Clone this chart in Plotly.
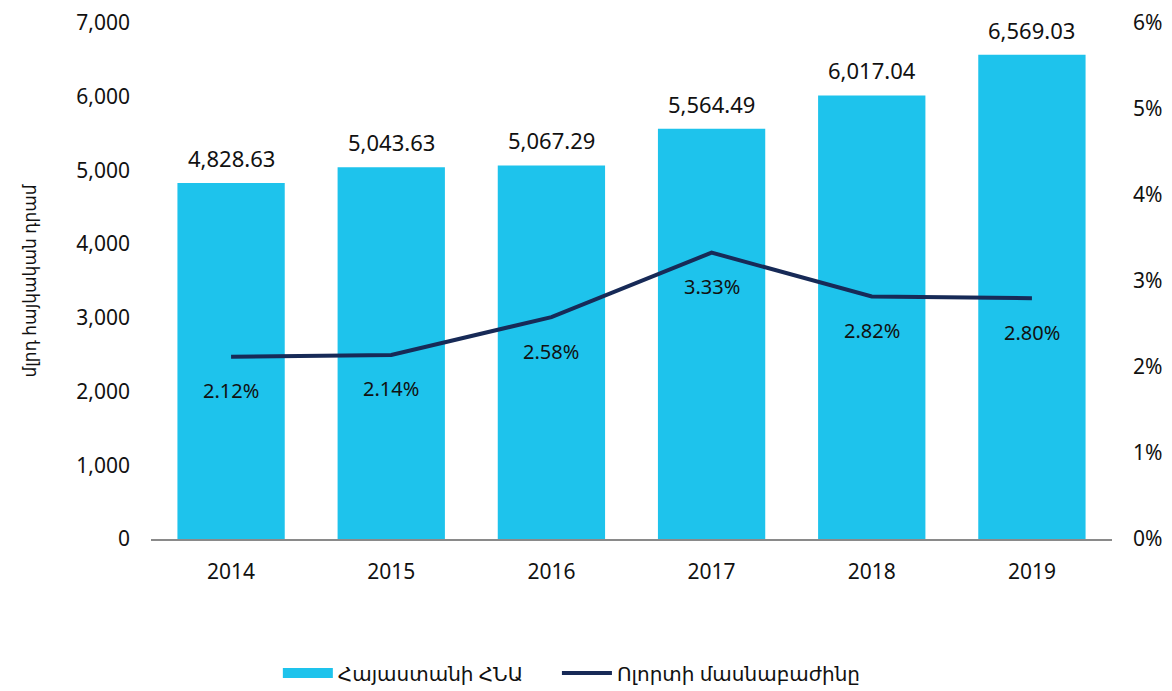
import plotly.graph_objects as go

years = ["2014", "2015", "2016", "2017", "2018", "2019"]
gdp = [4828.63, 5043.63, 5067.29, 5564.49, 6017.04, 6569.03]
share = [2.12, 2.14, 2.58, 3.33, 2.82, 2.80]

bar_color = "#1ec3ec"
line_color = "#172a57"
font_family = "Noto Sans, DejaVu Sans, sans-serif"

fig = go.Figure()
fig.add_trace(go.Bar(
    x=years, y=gdp, name="Հայաստանի ՀՆԱ", showlegend=False,
    marker=dict(color=bar_color, line=dict(width=0)),
))
# legend entry shaped like the reference's wide swatch
fig.add_trace(go.Scatter(
    x=[None], y=[None], name="Հայաստանի ՀՆԱ", mode="lines",
    line=dict(color=bar_color, width=13), legend="legend",
))
fig.add_trace(go.Scatter(
    x=years, y=share, name="Ոլորտի մասնաբաժինը", yaxis="y2",
    mode="lines", line=dict(color=line_color, width=4), legend="legend2",
))

for i, v in enumerate(gdp):
    fig.add_annotation(x=i, y=v, xref="x", yref="y", text=f"{v:,.2f}",
                       showarrow=False, yshift=25, font=dict(size=22, color="#111"))
for i, v in enumerate(share):
    fig.add_annotation(x=i, y=v, xref="x", yref="y2", text=f"{v:.2f}%",
                       showarrow=False, yshift=-34, font=dict(size=20, color="#111"))

legend_style = dict(orientation="h", xanchor="left", y=-0.222, yanchor="top",
                    font=dict(size=20), itemwidth=50)

fig.update_layout(
    width=1164, height=683,
    margin=dict(l=143, r=60, t=15, b=152, autoexpand=False),
    paper_bgcolor="white", plot_bgcolor="white",
    font=dict(family=font_family, size=20, color="#111"),
    bargap=0.33,
    xaxis=dict(type="category", categoryorder="array", categoryarray=years,
               range=[-0.5, 5.5], showgrid=False, showline=True, linecolor="#8a8a8a",
               linewidth=1.5, ticks="", tickfont=dict(size=21), ticklabelstandoff=13),
    yaxis=dict(range=[0, 7000], dtick=1000, tickformat=",d", showgrid=False,
               zeroline=False, showline=False, ticks="", ticklabelstandoff=20,
               ticklabeloverflow="allow",
               title=dict(text="մլրդ հայկական դրամ", font=dict(size=17), standoff=35),
               tickfont=dict(size=21)),
    yaxis2=dict(range=[0, 6], dtick=1, overlaying="y", side="right",
                ticksuffix="%", showgrid=False, zeroline=False, showline=False,
                ticks="", tickfont=dict(size=21), ticklabelstandoff=20,
                ticklabeloverflow="allow"),
    legend=dict(x=0.132, **legend_style),
    legend2=dict(x=0.4224, **legend_style),
)

fig.write_html("out.html")
